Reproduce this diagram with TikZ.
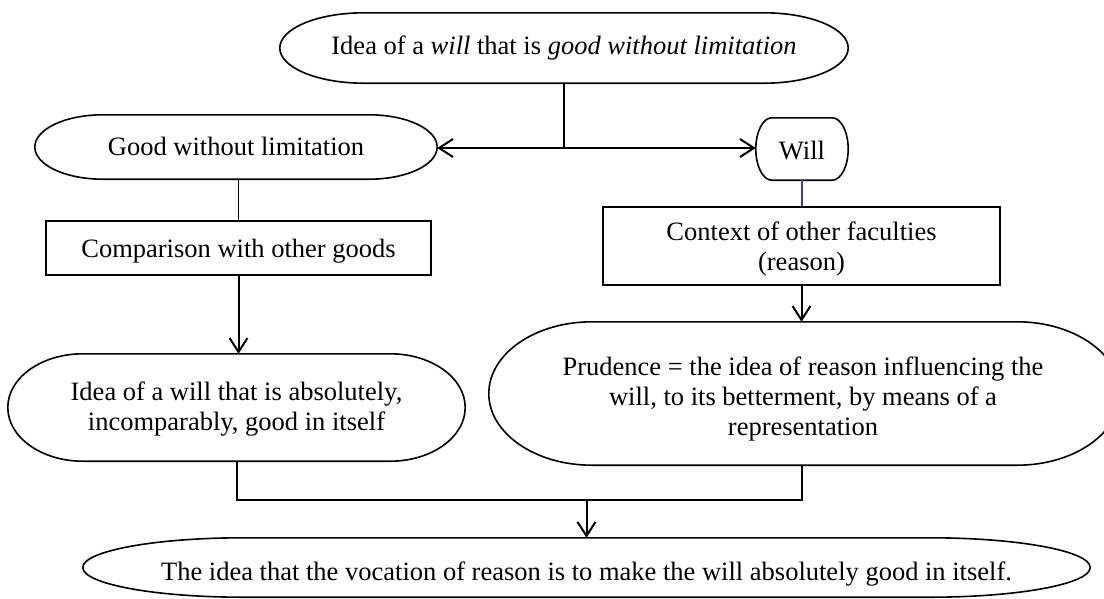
\documentclass[tikz,border=0pt]{standalone}
\usepackage{fontspec}
\setmainfont{Liberation Serif}
\usetikzlibrary{arrows.meta,calc}
\definecolor{linkblue}{RGB}{60,60,170}
\tikzset{
  box/.style={draw, line width=1.6pt, rectangle, inner sep=0pt},
  termnode/.style={rectangle, inner sep=0pt},
  txt/.style={font=\fontsize{26.5}{30}\selectfont, align=center, inner sep=0pt},
  conn/.style={line width=2pt},
  thinconn/.style={line width=1.2pt},
  arr/.style={conn, -{Straight Barb[length=14pt,width=18pt,line width=2pt]}},
  outline/.style={line width=1.6pt},
}
\newcommand\termoutline[2]{%
  \draw[outline] let \p1=(#1.north west), \p2=(#1.south east), \n1={(\y1-\y2)/2} in
  (\x1+#2,\y1) -- (\x2-#2,\y1)
  arc[start angle=90,end angle=-90,x radius=#2,y radius={\n1*1pt}]
  -- (\x1+#2,\y2)
  arc[start angle=270,end angle=90,x radius=#2,y radius={\n1*1pt}] -- cycle;}
\begin{document}
\begin{tikzpicture}[x=1pt,y=-1pt]
\useasboundingbox (0,0) rectangle (1104,598);
\clip (0,0) rectangle (1104,598);
% shapes
\node[termnode, minimum width=568pt, minimum height=70pt] (top) at (564,48) {};
\node[termnode, minimum width=402pt, minimum height=64pt] (good) at (236,147) {};
\node[termnode, minimum width=92pt, minimum height=62pt] (will) at (802,149) {};
\node[box, minimum width=385pt, minimum height=54pt] (comp) at (238.5,248) {};
\node[box, minimum width=397pt, minimum height=78pt] (ctx) at (801.5,246) {};
\node[termnode, minimum width=457pt, minimum height=107pt] (idea) at (236.5,407.5) {};
\node[termnode, minimum width=631pt, minimum height=143pt] (prud) at (804.5,393.5) {};
\node[termnode, minimum width=1007pt, minimum height=59pt] (bot) at (586.5,567.5) {};
\termoutline{top}{84pt}
\termoutline{good}{68pt}
\termoutline{will}{16pt}
\termoutline{idea}{75pt}
\termoutline{prud}{103pt}
\termoutline{bot}{160pt}
% texts
\node[txt] (topt) at (564,47.8) {Idea of a \textit{will} that is \textit{good without limitation}};
\node[txt] (goodt) at (236,146) {Good without limitation};
\node[txt] (willt) at (802,151) {Will};
\node[txt] (compt) at (238.5,250.8) {Comparison with other goods};
\node[txt] (ctxt) at (801.5,249) {Context of other faculties\\(reason)};
\node[txt] (ideat) at (236.5,409.4) {Idea of a will that is absolutely,\\incomparably, good in itself};
\node[txt] (prudt) at (803,399.4) {Prudence = the idea of reason influencing the\\will, to its betterment, by means of a\\representation};
\node[txt] (bott) at (586.5,573.8) {The idea that the vocation of reason is to make the will absolutely good in itself.};
% connectors
\coordinate (j1) at (564,148);
\draw[conn] (top.south) -- (j1);
\draw[arr] (j1) -- (j1 -| good.east);
\draw[arr] (j1) -- (j1 -| will.west);
\draw[thinconn] (comp.north |- good.south) -- (comp.north);
\draw[arr] (comp.south) -- (comp.south |- idea.north);
\draw[thinconn, linkblue] (will.south) -- (will.south |- ctx.north);
\draw[arr] (ctx.south) -- (ctx.south |- prud.north);
\coordinate (j2) at (586.5,500);
\draw[conn] (idea.south) |- (j2);
\draw[conn] (ctx.south |- prud.south) |- (j2);
\draw[arr] (j2) -- (bot.north);
\end{tikzpicture}
\end{document}
